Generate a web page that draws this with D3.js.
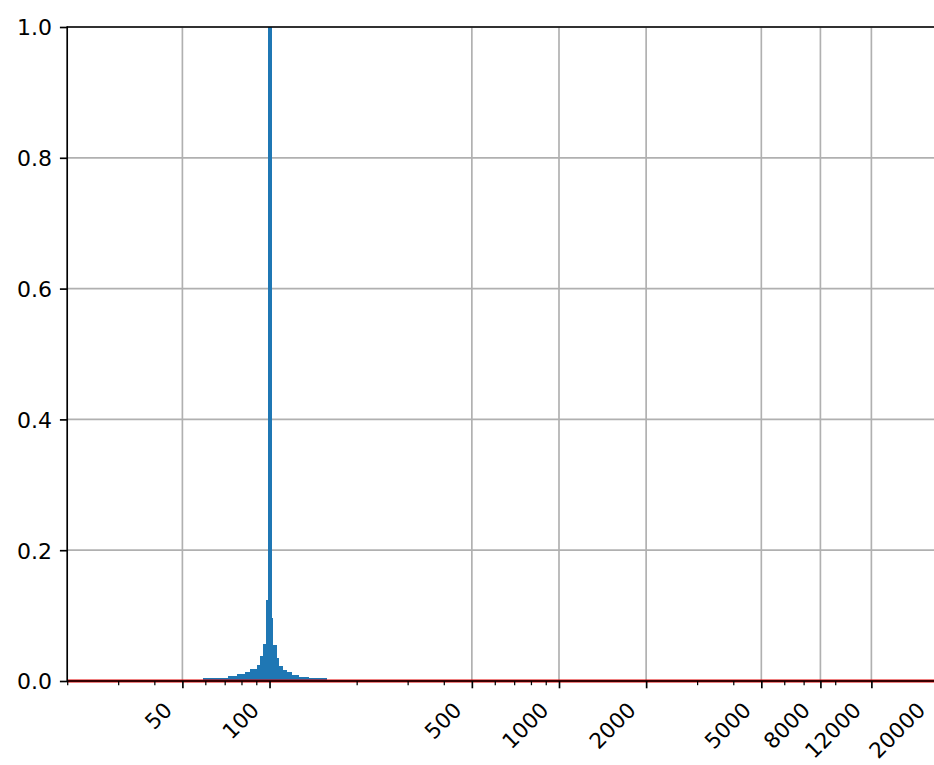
<!DOCTYPE html>
<html>
<head>
<meta charset="utf-8">
<script src="https://cdn.jsdelivr.net/npm/d3@7"></script>
<style>
  html, body { margin: 0; padding: 0; background: #fff; }
  svg { display: block; }
  text { font-family: "DejaVu Sans", sans-serif; fill: #000; }
</style>
</head>
<body>
<svg id="chart" width="934" height="765"></svg>
<script>
// ---- data ----
const binEdges = [59.0, 63.8, 65.2, 72.1, 77.0, 82.3, 85.6, 90.3, 92.7, 95.2, 97.0, 98.4,
                  101.6, 103.2, 106.1, 107.6, 111.1, 114.9, 119.6, 126.1, 136.6, 158.0];
const binHeights = [0.005, 0.004, 0.005, 0.007, 0.010, 0.013, 0.018, 0.024, 0.038, 0.056, 0.124, 1.0,
                    0.097, 0.055, 0.035, 0.023, 0.017, 0.013, 0.009, 0.0065, 0.004];
const xMajorTicks = [50, 100, 500, 1000, 2000, 5000, 8000, 12000, 20000];
const xMinorTicks = [20, 30, 40, 60, 70, 80, 90, 200, 300, 400, 600, 700, 800, 900,
                     3000, 4000, 6000, 7000, 9000];
const yTicks = [0.0, 0.2, 0.4, 0.6, 0.8, 1.0];
const xDomain = [20, 20000];
const yDomain = [0, 1];
const redLineY = [0, 0];

// ---- layout ----
const L = 67.2, R = 935.6, T = 27, B = 681;
const FS = 22, FSX = 21.5;
const svg = d3.select("#chart");
svg.append("rect").attr("width", 934).attr("height", 765).attr("fill", "#fff");

const x = d3.scaleLog().domain(xDomain).range([L, R]);
const y = d3.scaleLinear().domain(yDomain).range([B, T]);

const bars = binHeights.map((h, i) => ({ x0: binEdges[i], x1: binEdges[i + 1], h }));

// grid
const grid = svg.append("g");
grid.selectAll("line.gx").data(xMajorTicks).join("line")
  .attr("x1", d => x(d)).attr("x2", d => x(d)).attr("y1", T).attr("y2", B)
  .attr("stroke", "#b0b0b0").attr("stroke-width", 1.67);
grid.selectAll("line.gy").data(yTicks).join("line")
  .attr("x1", L).attr("x2", R).attr("y1", d => y(d)).attr("y2", d => y(d))
  .attr("stroke", "#b0b0b0").attr("stroke-width", 1.67);

// bars
svg.append("g").attr("shape-rendering", "crispEdges")
  .selectAll("rect").data(bars).join("rect")
  .attr("x", d => x(d.x0))
  .attr("width", d => x(d.x1) - x(d.x0))
  .attr("y", d => y(d.h))
  .attr("height", d => y(0) - y(d.h))
  .attr("fill", "#1f77b4");

// red line
svg.append("line")
  .attr("x1", x(xDomain[0])).attr("x2", x(xDomain[1]))
  .attr("y1", y(redLineY[0])).attr("y2", y(redLineY[1]))
  .attr("stroke", "#e00000").attr("stroke-width", 3.1);

// spines
const sp = svg.append("g").attr("stroke", "#000").attr("stroke-width", 1.67).attr("fill", "none");
sp.append("line").attr("x1", L).attr("x2", L).attr("y1", T - 0.8).attr("y2", B + 0.8);
sp.append("line").attr("x1", R).attr("x2", R).attr("y1", T - 0.8).attr("y2", B + 0.8);
sp.append("line").attr("x1", L).attr("x2", R).attr("y1", T).attr("y2", T);
sp.append("line").attr("x1", L).attr("x2", R).attr("y1", B).attr("y2", B);

// x axis ticks
const xAxisMajor = d3.axisBottom(x).tickValues(xMajorTicks).tickFormat(d3.format("d"))
  .tickSizeInner(7.3).tickSizeOuter(0).tickPadding(0);
const gx = svg.append("g").attr("transform", `translate(0,${B})`).call(xAxisMajor);
gx.select(".domain").remove();
gx.selectAll(".tick line").attr("stroke", "#000").attr("stroke-width", 1.67);
gx.selectAll(".tick text")
  .attr("font-size", FSX)
  .attr("text-anchor", "end")
  .attr("dy", null)
  .attr("y", null)
  .attr("transform", "translate(-9.5,30.5) rotate(-45)");

const xAxisMinor = d3.axisBottom(x).tickValues(xMinorTicks).tickFormat("")
  .tickSizeInner(4.2).tickSizeOuter(0);
const gxm = svg.append("g").attr("transform", `translate(0,${B})`).call(xAxisMinor);
gxm.select(".domain").remove();
gxm.selectAll(".tick line").attr("stroke", "#000").attr("stroke-width", 1.25);

// y axis
const yAxis = d3.axisLeft(y).tickValues(yTicks).tickFormat(d3.format(".1f"))
  .tickSizeInner(7.3).tickSizeOuter(0).tickPadding(7.8);
const gy = svg.append("g").attr("transform", `translate(${L},0)`).call(yAxis);
gy.select(".domain").remove();
gy.selectAll(".tick line").attr("stroke", "#000").attr("stroke-width", 1.67);
gy.selectAll(".tick text").attr("font-size", FS).attr("dy", "0.36em");
svg.selectAll(".tick text").style("font-family", "'DejaVu Sans', sans-serif").attr("fill", "#000");
svg.selectAll("g[font-family]").attr("font-family", null).attr("font-size", null);
</script>
</body>
</html>
